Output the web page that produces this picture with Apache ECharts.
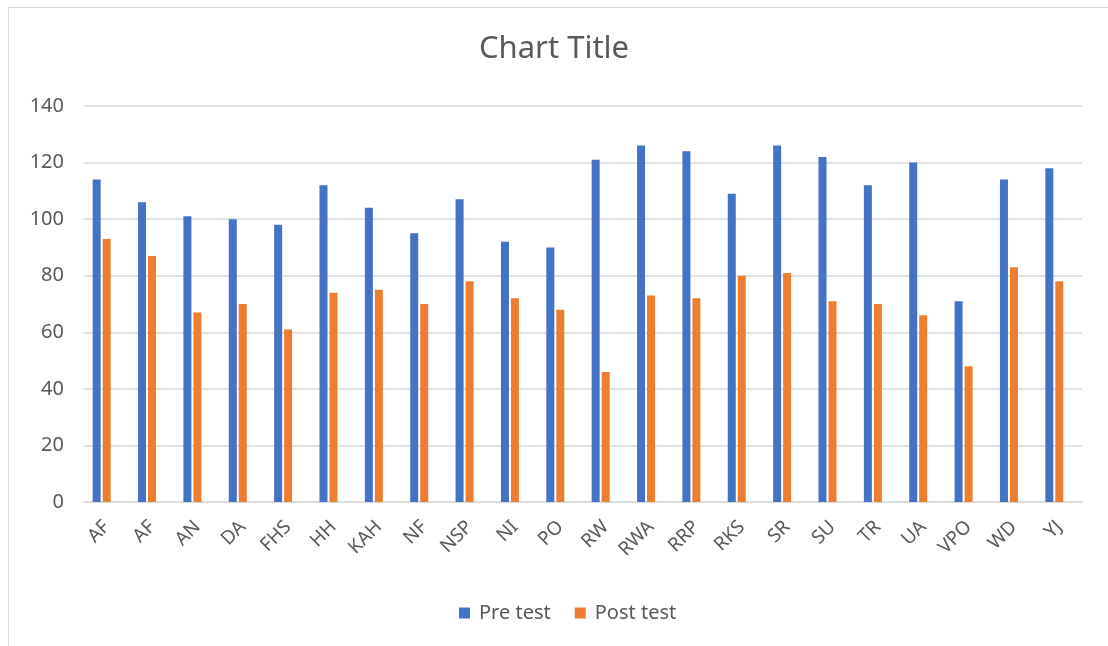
<!DOCTYPE html>
<html>
<head>
    <meta charset="UTF-8">
    <title>Chart Title</title>
    <style>
        html, body { margin: 0; padding: 0; background: #fff; }
        #chart { width: 1108px; height: 646px; }
    </style>
</head>
<body>
<div id="chart"></div>
<script src="https://cdn.jsdelivr.net/npm/echarts@6/dist/echarts.min.js"></script>
<script>
    var names = ['AF', 'AF', 'AN', 'DA', 'FHS', 'HH', 'KAH', 'NF', 'NSP', 'NI', 'PO',
        'RW', 'RWA', 'RRP', 'RKS', 'SR', 'SU', 'TR', 'UA', 'VPO', 'WD', 'YJ'];
    var preTest = [114, 106, 101, 100, 98, 112, 104, 95, 107, 92, 90,
        121, 126, 124, 109, 126, 122, 112, 120, 71, 114, 118];
    var postTest = [93, 87, 67, 70, 61, 74, 75, 70, 78, 72, 68,
        46, 73, 72, 80, 81, 71, 70, 66, 48, 83, 78];
    var yTicks = [0, 20, 40, 60, 80, 100, 120, 140];

    var font = 'Noto Sans';
    var grey = '#595959';

    var chart = echarts.init(document.getElementById('chart'));
    var option = {
        animation: false,
        color: ['#4472C4', '#ED7D31', '#A5A5A5'],
        textStyle: { fontFamily: font },
        graphic: [{
            type: 'rect',
            shape: { x: 8.5, y: 7.5, width: 1200, height: 700 },
            style: { fill: 'none', stroke: '#d9d9d9', lineWidth: 1 },
            silent: true
        }],
        title: {
            text: 'Chart Title',
            left: 'center',
            top: 29,
            textStyle: { fontFamily: font, fontSize: 31, fontWeight: 'normal', color: grey }
        },
        legend: {
            bottom: 18,
            left: 454,
            itemWidth: 11,
            itemHeight: 11,
            itemGap: 24,
            icon: 'rect',
            textStyle: { fontFamily: font, fontSize: 20, color: grey, padding: [0, 0, 0, 4] },
            data: ['Pre test', 'Post test']
        },
        grid: { left: 84, right: 26, top: 106, bottom: 144 },
        xAxis: {
            type: 'category',
            data: names,
            axisLine: { lineStyle: { color: '#d9d9d9', width: 1.5 } },
            axisTick: { show: false },
            axisLabel: {
                rotate: 45,
                interval: 0,
                margin: 22,
                color: grey,
                fontSize: 19,
                fontFamily: font
            }
        },
        yAxis: {
            type: 'value',
            min: yTicks[0],
            max: yTicks[yTicks.length - 1],
            interval: 20,
            axisLine: { show: false },
            axisTick: { show: false },
            splitLine: { lineStyle: { color: '#d9d9d9', width: 1.5 } },
            axisLabel: { color: grey, fontSize: 20, fontFamily: font, margin: 20 }
        },
        series: [
            {
                name: 'Pre test',
                type: 'bar',
                barWidth: 8,
                barGap: '25%',
                data: preTest
            },
            {
                name: 'Post test',
                type: 'bar',
                barWidth: 8,
                barGap: '25%',
                data: postTest
            },
            {
                // empty third slot in the cluster, as in the original sheet
                name: 'blank',
                type: 'bar',
                barWidth: 8,
                barGap: '25%',
                data: []
            }
        ]
    };
    chart.setOption(option);
</script>
</body>
</html>
